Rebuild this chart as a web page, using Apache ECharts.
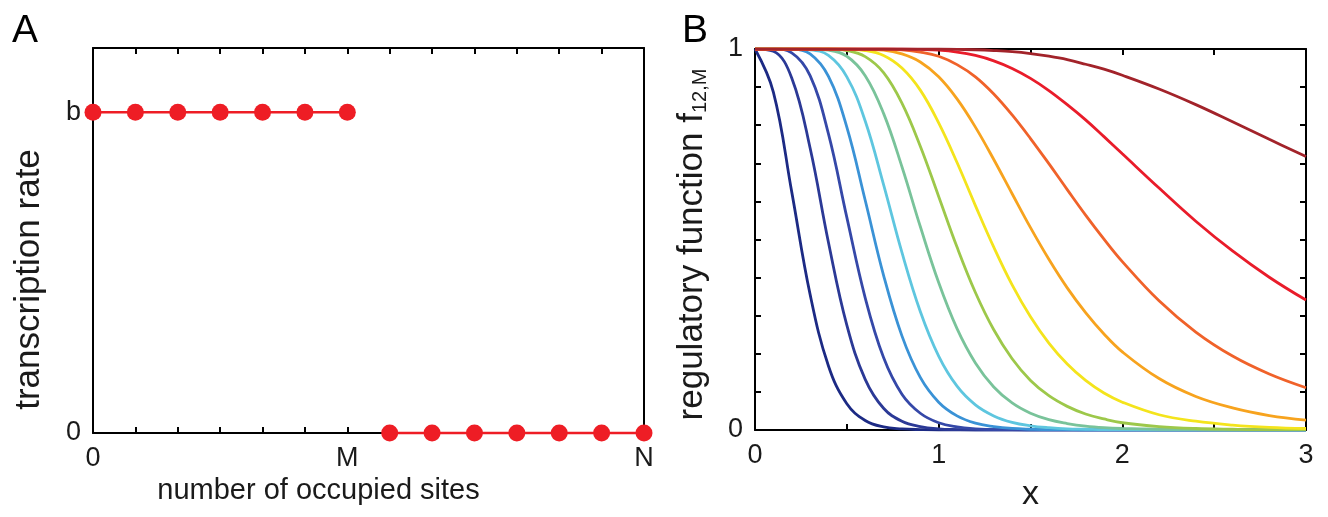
<!DOCTYPE html>
<html>
<head>
<meta charset="utf-8">
<title>transcription rate / regulatory function</title>
<script src="https://cdn.jsdelivr.net/npm/echarts@6/dist/echarts.min.js"></script>
<style>
  html, body { margin: 0; padding: 0; background: #fff; }
  #main { width: 1328px; height: 517px; }
</style>
</head>
<body>
<div id="main"></div>
<script>
// ---- panel A: rate vs number of occupied sites ----
const sitesOn = [0, 1, 2, 3, 4, 5, 6];
const rateOn = [1, 1, 1, 1, 1, 1, 1];
const sitesOff = [7, 8, 9, 10, 11, 12, 13];
const rateOff = [0, 0, 0, 0, 0, 0, 0];
const siteTickLabels = { 0: "0", 6: "M", 13: "N" };
const rateTickLabels = { 0: "0", 1: "b" };

// ---- panel B: f_{12,M}(x), one curve per M = 1..12 ----
const xs = [0, 0.1, 0.2, 0.3, 0.4, 0.5, 0.6, 0.7, 0.8, 0.9, 1.0, 1.1, 1.2, 1.3, 1.4, 1.5, 1.6, 1.7, 1.8, 1.9, 2.0, 2.2, 2.4, 2.6, 2.8, 3.0];
const fM1 = [1, 0.887, 0.625, 0.356, 0.168, 0.069, 0.025, 0.008, 0.003, 0.001, 0, 0, 0, 0, 0, 0, 0, 0, 0, 0, 0, 0, 0, 0, 0, 0];
const fM2 = [1, 0.994, 0.924, 0.740, 0.492, 0.275, 0.133, 0.057, 0.023, 0.009, 0.003, 0.001, 0, 0, 0, 0, 0, 0, 0, 0, 0, 0, 0, 0, 0, 0];
const fM3 = [1, 1, 0.990, 0.930, 0.777, 0.558, 0.347, 0.190, 0.094, 0.044, 0.019, 0.008, 0.003, 0.001, 0.001, 0, 0, 0, 0, 0, 0, 0, 0, 0, 0, 0];
const fM4 = [1, 1, 0.999, 0.987, 0.928, 0.795, 0.603, 0.406, 0.247, 0.138, 0.073, 0.037, 0.018, 0.009, 0.004, 0.002, 0.001, 0.001, 0, 0, 0, 0, 0, 0, 0, 0];
const fM5 = [1, 1, 1, 0.998, 0.983, 0.927, 0.811, 0.644, 0.466, 0.311, 0.194, 0.115, 0.066, 0.037, 0.020, 0.011, 0.006, 0.003, 0.002, 0.001, 0.001, 0, 0, 0, 0, 0];
const fM6 = [1, 1, 1, 1, 0.997, 0.981, 0.930, 0.831, 0.691, 0.534, 0.387, 0.266, 0.176, 0.113, 0.071, 0.044, 0.027, 0.017, 0.010, 0.006, 0.004, 0.002, 0.001, 0, 0, 0];
const fM7 = [1, 1, 1, 1, 1, 0.996, 0.980, 0.938, 0.858, 0.745, 0.613, 0.480, 0.361, 0.263, 0.187, 0.130, 0.090, 0.062, 0.042, 0.029, 0.019, 0.009, 0.004, 0.002, 0.001, 0.001];
const fM8 = [1, 1, 1, 1, 1, 0.999, 0.996, 0.983, 0.950, 0.892, 0.806, 0.702, 0.589, 0.480, 0.381, 0.297, 0.228, 0.173, 0.130, 0.097, 0.073, 0.040, 0.023, 0.013, 0.007, 0.004];
const fM9 = [1, 1, 1, 1, 1, 1, 0.999, 0.997, 0.987, 0.966, 0.927, 0.869, 0.795, 0.710, 0.620, 0.531, 0.448, 0.373, 0.308, 0.252, 0.205, 0.135, 0.088, 0.058, 0.038, 0.026];
const fM10 = [1, 1, 1, 1, 1, 1, 1, 1, 0.998, 0.992, 0.981, 0.959, 0.927, 0.882, 0.827, 0.765, 0.699, 0.631, 0.564, 0.501, 0.442, 0.339, 0.257, 0.194, 0.147, 0.111];
const fM11 = [1, 1, 1, 1, 1, 1, 1, 1, 1, 0.999, 0.997, 0.992, 0.983, 0.969, 0.949, 0.923, 0.891, 0.854, 0.814, 0.770, 0.725, 0.635, 0.548, 0.470, 0.401, 0.341];
const fM12 = [1, 1, 1, 1, 1, 1, 1, 1, 1, 1, 1, 0.999, 0.998, 0.996, 0.993, 0.988, 0.981, 0.972, 0.960, 0.947, 0.931, 0.895, 0.854, 0.809, 0.763, 0.718];

const curves = [fM1, fM2, fM3, fM4, fM5, fM6, fM7, fM8, fM9, fM10, fM11, fM12];
const curveColors = ["#1c2a84", "#2b3996", "#3548a8", "#3a92d6", "#5ec6df", "#79c39a",
  "#9dc84a", "#f4e41c", "#f7a31e", "#f0622a", "#e91c2a", "#a2232a"];

const FONT = "Liberation Sans, Arial, Helvetica, sans-serif";
const TXT = "#1a1a1a";
const axisLine = { show: true, onZero: false, lineStyle: { color: "#000", width: 2 } };
const tick = { show: true, inside: true, length: 6, lineStyle: { color: "#000", width: 2 } };
const tickLabel = { fontSize: 27, color: TXT, fontFamily: FONT, margin: 12 };

const myChart = echarts.init(document.getElementById("main"), null, { renderer: "canvas" });

const option = {
  backgroundColor: "#fff",
  animation: false,
  graphic: [
    { type: "text", left: 12, top: 12, style: { text: "A", font: "39px " + FONT, fill: "#000" } },
    { type: "text", left: 682, top: 12, style: { text: "B", font: "39px " + FONT, fill: "#000" } },
  ],
  grid: [
    { left: 93, top: 48, width: 551, height: 385 },
    { left: 755, top: 49, width: 551, height: 384 },
  ],
  xAxis: [
    {
      gridIndex: 0, type: "value", position: "bottom", min: 0, max: 13, interval: 1,
      axisLine: axisLine, axisTick: tick, splitLine: { show: false },
      axisLabel: Object.assign({}, tickLabel, { formatter: (v) => siteTickLabels[v] || "" }),
      name: "number of occupied sites", nameLocation: "middle", nameGap: 43,
      nameTextStyle: { fontSize: 29, color: TXT, fontFamily: FONT, padding: [0, 100, 0, 0] },
    },
    {
      gridIndex: 0, type: "value", position: "top", min: 0, max: 13, interval: 1,
      axisLine: axisLine, axisTick: tick, splitLine: { show: false }, axisLabel: { show: false },
    },
    {
      gridIndex: 1, type: "value", position: "bottom", min: 0, max: 3, interval: 0.5,
      axisLine: axisLine, axisTick: tick, splitLine: { show: false },
      axisLabel: Object.assign({}, tickLabel, { formatter: (v) => (Number.isInteger(v) ? String(v) : "") }),
      name: "x", nameLocation: "middle", nameGap: 48,
      nameTextStyle: { fontSize: 34, color: TXT, fontFamily: FONT },
    },
    {
      gridIndex: 1, type: "value", position: "top", min: 0, max: 3, interval: 0.5,
      axisLine: axisLine, axisTick: tick, splitLine: { show: false }, axisLabel: { show: false },
    },
  ],
  yAxis: [
    {
      gridIndex: 0, type: "value", position: "left", min: 0, max: 1.2, interval: 0.2,
      axisLine: axisLine, axisTick: { show: false }, splitLine: { show: false },
      axisLabel: Object.assign({}, tickLabel, {
        formatter: (v) => (Math.abs(v) < 1e-9 ? rateTickLabels[0] : Math.abs(v - 1) < 1e-9 ? rateTickLabels[1] : ""),
      }),
      name: "transcription rate", nameLocation: "middle", nameGap: 46,
      nameTextStyle: { fontSize: 35, color: TXT, fontFamily: FONT, padding: [0, 78, 0, 0] },
    },
    {
      gridIndex: 0, type: "value", position: "right", min: 0, max: 1.2, interval: 0.2,
      axisLine: axisLine, axisTick: { show: false }, splitLine: { show: false }, axisLabel: { show: false },
    },
    {
      gridIndex: 1, type: "value", position: "left", min: 0, max: 1, interval: 0.1,
      axisLine: axisLine, axisTick: tick, splitLine: { show: false },
      axisLabel: Object.assign({}, tickLabel, { formatter: (v) => (v === 0 ? "0" : v === 1 ? "1" : "") }),
      name: "regulatory function f{sub|12,M}", nameLocation: "middle", nameGap: 45,
      nameTextStyle: {
        fontSize: 35, color: TXT, fontFamily: FONT, lineHeight: 36, padding: [0, 10, 0, 0],
        rich: { sub: { fontSize: 20, fontFamily: FONT, color: TXT, verticalAlign: "bottom", lineHeight: 20 } },
      },
    },
    {
      gridIndex: 1, type: "value", position: "right", min: 0, max: 1, interval: 0.1,
      axisLine: axisLine, axisTick: tick, splitLine: { show: false }, axisLabel: { show: false },
    },
  ],
  series: [
    {
      name: "rate on", type: "line", xAxisIndex: 0, yAxisIndex: 0, clip: false,
      data: sitesOn.map((s, i) => [s, rateOn[i]]),
      symbol: "circle", symbolSize: 17,
      lineStyle: { color: "#ee1d25", width: 2.5 }, itemStyle: { color: "#ee1d25" },
    },
    {
      name: "rate off", type: "line", xAxisIndex: 0, yAxisIndex: 0, clip: false,
      data: sitesOff.map((s, i) => [s, rateOff[i]]),
      symbol: "circle", symbolSize: 17,
      lineStyle: { color: "#ee1d25", width: 2.5 }, itemStyle: { color: "#ee1d25" },
    },
  ].concat(curves.map((ys, m) => ({
    name: "M=" + (m + 1), type: "line", xAxisIndex: 2, yAxisIndex: 2,
    data: xs.map((x, j) => [x, ys[j]]),
    smooth: 0.4, showSymbol: false, symbol: "none",
    lineStyle: { color: curveColors[m], width: 2.8 },
  }))),
};

myChart.setOption(option);
</script>
</body>
</html>
